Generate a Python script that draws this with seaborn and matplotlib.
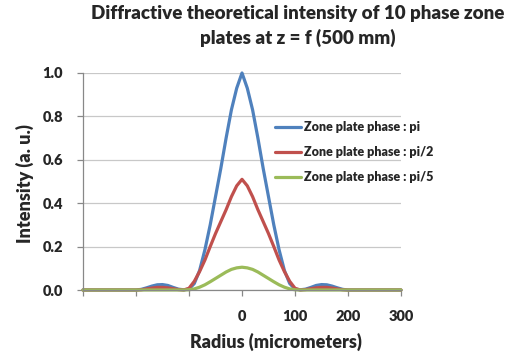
import matplotlib
matplotlib.use("Agg")
import matplotlib.pyplot as plt
import seaborn as sns
import pandas as pd

radius = list(range(-300, 301, 10))

phase_pi = [0, 0, 0, 0, 0, 0, 0, 0, 0, 0, 0,
            0.003, 0.01, 0.018, 0.024, 0.025, 0.021, 0.012, 0.004, 0.001,
            0.004, 0.03, 0.09, 0.185, 0.30, 0.43, 0.56, 0.70, 0.83, 0.93,
            1.0,
            0.93, 0.83, 0.70, 0.56, 0.43, 0.30, 0.185, 0.09, 0.03, 0.004,
            0.001, 0.004, 0.012, 0.021, 0.025, 0.024, 0.018, 0.01, 0.003,
            0, 0, 0, 0, 0, 0, 0, 0, 0, 0, 0]

phase_pi2 = [0, 0, 0, 0, 0, 0, 0, 0, 0, 0, 0,
             0.001, 0.005, 0.009, 0.012, 0.012, 0.01, 0.006, 0.002, 0.0,
             0.008, 0.04, 0.085, 0.138, 0.20, 0.26, 0.315, 0.37, 0.43, 0.48,
             0.51,
             0.48, 0.43, 0.37, 0.315, 0.26, 0.20, 0.138, 0.085, 0.04, 0.008,
             0.0, 0.002, 0.006, 0.01, 0.012, 0.012, 0.009, 0.005, 0.001,
             0, 0, 0, 0, 0, 0, 0, 0, 0, 0, 0]

phase_pi5 = [0, 0, 0, 0, 0, 0, 0, 0, 0, 0, 0,
             0, 0, 0, 0, 0, 0, 0, 0, 0,
             0.001, 0.005, 0.013, 0.024, 0.038, 0.053, 0.068, 0.083, 0.095, 0.102,
             0.105,
             0.102, 0.095, 0.083, 0.068, 0.053, 0.038, 0.024, 0.013, 0.005, 0.001,
             0, 0, 0, 0, 0, 0, 0, 0, 0,
             0, 0, 0, 0, 0, 0, 0, 0, 0, 0, 0]

labels = ["Zone plate phase : pi", "Zone plate phase : pi/2", "Zone plate phase : pi/5"]
colors = ["#4F81BD", "#C0504D", "#9BBB59"]
x_ticks = [-300, -200, -100, 0, 100, 200, 300]
x_tick_labels = ["", "", "", "0", "100", "200", "300"]
y_ticks = [0.0, 0.2, 0.4, 0.6, 0.8, 1.0]

df = pd.concat([
    pd.DataFrame({"radius": radius, "intensity": vals, "series": name})
    for vals, name in zip([phase_pi, phase_pi2, phase_pi5], labels)
])

sns.set_style("white")
plt.rcParams["font.family"] = ["Lato", "DejaVu Sans"]
plt.rcParams["font.weight"] = "heavy"

fig = plt.figure(figsize=(5.22, 3.58), dpi=100)
ax = fig.add_axes([83 / 522, 1 - 290 / 358, 318 / 522, 217 / 358])

sns.lineplot(data=df, x="radius", y="intensity", hue="series", palette=colors,
             linewidth=2.3, ax=ax, legend=False, clip_on=False)

ax.set_xlim(-300, 300)
ax.set_ylim(0, 1.0)
ax.set_xticks(x_ticks)
ax.set_xticklabels(x_tick_labels)
ax.set_yticks(y_ticks)
ax.set_yticklabels([f"{v:.1f}" for v in y_ticks])
ax.yaxis.grid(True, color="#C8C8C8", linewidth=0.9)
ax.set_axisbelow(True)
for side in ["top", "right"]:
    ax.spines[side].set_visible(False)
for side in ["left", "bottom"]:
    ax.spines[side].set_color("#888888")
    ax.spines[side].set_linewidth(0.9)
ax.tick_params(axis="both", direction="out", length=4.5, width=0.9, color="#888888",
               pad=10, labelsize=10.5, left=True, bottom=True)
for lab in ax.get_xticklabels() + ax.get_yticklabels():
    lab.set_fontweight("heavy")
ax.set_xlabel("")
ax.set_ylabel("")

handles = [plt.Line2D([], [], color=c, linewidth=2.3) for c in colors]
ax.legend(handles, labels, loc="upper left", bbox_to_anchor=(275 / 522, 1 - 121 / 358),
          bbox_transform=fig.transFigure, frameon=False, borderpad=0, borderaxespad=0,
          handlelength=2.1, handletextpad=0.2, labelspacing=1.05,
          prop={"size": 9, "weight": "heavy"})

fig.text(298 / 522, 1 - 5 / 358,
         "Diffractive theoretical intensity of 10 phase zone\nplates at z = f (500 mm)",
         ha="center", va="top", fontsize=13.5, fontweight="heavy", linespacing=1.45)
fig.text(276 / 522, 1 - 342 / 358, "Radius (micrometers)", ha="center", va="center",
         fontsize=13, fontweight="heavy")
fig.text(25 / 522, 1 - 184 / 358, "Intensity (a. u.)", ha="center", va="center",
         rotation=90, fontsize=13, fontweight="heavy")

fig.savefig("out.png", dpi=100)
plt.close(fig)
